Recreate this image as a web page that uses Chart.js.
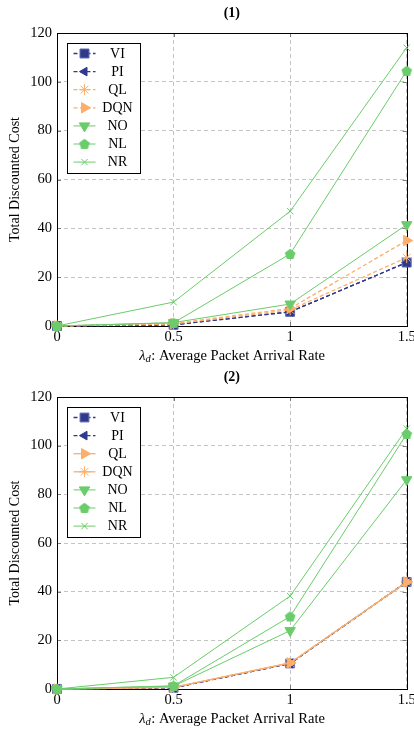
<!DOCTYPE html>
<html><head><meta charset="utf-8">
<script src="https://cdn.jsdelivr.net/npm/chart.js@4.4.0/dist/chart.umd.min.js"></script>
<style>
html,body{margin:0;padding:0;background:#fff;}
.wrap{position:relative;width:414px;}
canvas{display:block;}
</style></head><body>
<div class="wrap"><canvas id="c1" width="414" height="365"></canvas></div>
<div class="wrap"><canvas id="c2" width="414" height="366"></canvas></div>
<script>
// ---------- data ----------
const xValues = [0, 0.5, 1, 1.5];
const xTickLabels = ['0', '0.5', '1', '1.5'];
const seriesNames = ['VI', 'PI', 'QL', 'DQN', 'NO', 'NL', 'NR'];
// chart (1)
const vi1  = [0, 0.5, 5.8, 26];
const pi1  = [0, 0.5, 5.8, 26];
const ql1  = [0, 0.8, 6.6, 28];
const dqn1 = [0, 1.0, 7.2, 35];
const no1  = [0, 1.4, 9.0, 41.5];
const nl1  = [0, 1.3, 29.5, 104.5];
const nr1  = [0, 9.8, 47, 114];
// chart (2)
const vi2  = [0, 0.5, 10.5, 44];
const pi2  = [0, 0.5, 10.5, 44];
const ql2  = [0, 0.7, 10.7, 44];
const dqn2 = [0, 0.7, 10.7, 44];
const no2  = [0, 1.2, 24, 86];
const nl2  = [0, 1.3, 29.8, 104.8];
const nr2  = [0, 4.8, 38.2, 107];

const FONT = "'Liberation Serif', 'DejaVu Serif', serif";
const NAVY = '#2f3a8c', ORANGE = '#fdae6b', GREEN = '#6acc6a';

function pentagon(color) {
  const c = document.createElement('canvas');
  c.width = 12; c.height = 12;
  const g = c.getContext('2d');
  g.beginPath();
  for (let i = 0; i < 5; i++) {
    const a = -Math.PI / 2 + i * 2 * Math.PI / 5;
    const px = 6 + 5.6 * Math.cos(a), py = 6.4 + 5.6 * Math.sin(a);
    i ? g.lineTo(px, py) : g.moveTo(px, py);
  }
  g.closePath();
  g.fillStyle = color; g.fill();
  return c;
}
const PENT = pentagon(GREEN);

function mk(label, vals, color, style, opts) {
  return Object.assign({
    label, data: xValues.map((x, i) => ({x, y: vals[i]})),
    borderColor: color, backgroundColor: color,
    pointBackgroundColor: color, pointBorderColor: color,
    borderWidth: 1, pointBorderWidth: 1, pointStyle: style,
    pointRadius: 5, pointRotation: 0, tension: 0, clip: false, fill: false
  }, opts || {});
}
const DASH = [4, 2.5];

function datasets1() {
  return [
    mk(seriesNames[0], vi1, NAVY, 'rect', {borderDash: DASH, borderWidth: 1.3, pointRadius: 6.3, pointBorderColor: '#5a64a8'}),
    mk(seriesNames[1], pi1, NAVY, 'triangle', {borderDash: DASH, borderWidth: 1.3, pointRotation: -90, pointRadius: 5}),
    mk(seriesNames[2], ql1, ORANGE, 'star', {borderDash: DASH, borderWidth: 1.3, pointRadius: 5.5}),
    mk(seriesNames[3], dqn1, ORANGE, 'triangle', {borderDash: DASH, borderWidth: 1.3, pointRotation: 90, pointRadius: 6}),
    mk(seriesNames[4], no1, GREEN, 'triangle', {pointRotation: 180, pointRadius: 6}),
    mk(seriesNames[5], nl1, GREEN, PENT, {}),
    mk(seriesNames[6], nr1, GREEN, 'crossRot', {pointRadius: 4.5})
  ];
}
function datasets2() {
  return [
    mk(seriesNames[0], vi2, NAVY, 'rect', {borderDash: DASH, borderWidth: 1.3, pointRadius: 6.3, pointBorderColor: '#6d76b5'}),
    mk(seriesNames[1], pi2, NAVY, 'triangle', {borderDash: DASH, borderWidth: 1.3, pointRotation: -90, pointRadius: 5}),
    mk(seriesNames[2], ql2, ORANGE, 'triangle', {borderWidth: 1.3, pointRotation: 90, pointRadius: 6}),
    mk(seriesNames[3], dqn2, ORANGE, 'star', {borderWidth: 1.3, pointRadius: 5.5}),
    mk(seriesNames[4], no2, GREEN, 'triangle', {pointRotation: 180, pointRadius: 6}),
    mk(seriesNames[5], nl2, GREEN, PENT, {}),
    mk(seriesNames[6], nr2, GREEN, 'crossRot', {pointRadius: 4.5})
  ];
}

const framePlugin = {
  id: 'frame',
  beforeDatasetsDraw(chart) {
    const {ctx, chartArea: a, scales: {x, y}} = chart;
    ctx.save();
    ctx.strokeStyle = '#7a7a7a'; ctx.lineWidth = 1; ctx.setLineDash([]);
    ctx.beginPath();
    x.ticks.forEach(t => {
      const px = Math.round(x.getPixelForValue(t.value)) + 0.5;
      ctx.moveTo(px, a.bottom); ctx.lineTo(px, a.bottom - 4);
      ctx.moveTo(px, a.top); ctx.lineTo(px, a.top + 4);
    });
    y.ticks.forEach(t => {
      const py = Math.round(y.getPixelForValue(t.value)) + 0.5;
      ctx.moveTo(a.left, py); ctx.lineTo(a.left + 4, py);
      ctx.moveTo(a.right, py); ctx.lineTo(a.right - 4, py);
    });
    ctx.stroke();
    ctx.strokeStyle = '#000';
    ctx.strokeRect(Math.round(a.left) + 0.5, Math.round(a.top) + 0.5,
                   Math.round(a.right - a.left), Math.round(a.bottom - a.top));
    ctx.restore();
  },
  afterDraw(chart, args, opts) {
    const {ctx, chartArea: a} = chart;
    const cx = (a.left + a.right) / 2;
    ctx.save();
    // title
    ctx.fillStyle = '#000';
    ctx.font = 'bold 14px ' + FONT;
    ctx.textAlign = 'center'; ctx.textBaseline = 'middle';
    ctx.fillText(opts.title, cx, a.top - 20);
    // x-axis title with subscript
    const f1 = 'italic 14.5px ' + FONT, f2 = 'italic 10.5px ' + FONT, f3 = '14.5px ' + FONT;
    const rest = ': Average Packet Arrival Rate';
    ctx.font = f1; const w1 = ctx.measureText('λ').width;
    ctx.font = f2; const w2 = ctx.measureText('d').width;
    ctx.font = f3; const w3 = ctx.measureText(rest).width;
    let sx = cx - (w1 + w2 + w3) / 2;
    const ty = a.bottom + 30;
    ctx.textAlign = 'left'; ctx.textBaseline = 'middle';
    ctx.font = f1; ctx.fillText('λ', sx, ty); sx += w1;
    ctx.font = f2; ctx.fillText('d', sx, ty + 3); sx += w2 + 0.5;
    ctx.font = f3; ctx.fillText(rest, sx, ty);
    // legend
    const bx = Math.round(a.left + 10) + 0.5, by = Math.round(a.top + 10) + 0.5;
    const bw = 73, bh = 130;
    ctx.fillStyle = '#fff';
    ctx.fillRect(bx, by, bw, bh);
    ctx.strokeStyle = '#000'; ctx.lineWidth = 1; ctx.setLineDash([]);
    ctx.strokeRect(bx, by, bw, bh);
    chart.data.datasets.forEach((ds, i) => {
      const ry = by + 10 + i * 18.1;
      ctx.save();
      ctx.strokeStyle = ds.borderColor; ctx.lineWidth = ds.borderWidth;
      ctx.setLineDash(ds.borderDash || []);
      ctx.beginPath(); ctx.moveTo(bx + 6, ry); ctx.lineTo(bx + 28, ry); ctx.stroke();
      ctx.setLineDash([]);
      ctx.fillStyle = ds.pointBackgroundColor; ctx.strokeStyle = ds.pointBorderColor;
      ctx.lineWidth = ds.pointBorderWidth;
      Chart.helpers.drawPoint(ctx, {pointStyle: ds.pointStyle, rotation: ds.pointRotation,
        radius: ds.pointRadius, borderWidth: ds.pointBorderWidth}, bx + 17, ry);
      ctx.restore();
      ctx.fillStyle = '#000'; ctx.font = '14px ' + FONT;
      ctx.textAlign = 'center'; ctx.textBaseline = 'middle';
      ctx.fillText(ds.label, bx + 50, ry + 0.5);
    });
    ctx.restore();
  }
};

function makeChart(id, ds, title, gap) {
  const canvas = document.getElementById(id);
  return new Chart(canvas, {
    type: 'line',
    data: {datasets: ds},
    plugins: [framePlugin],
    options: {
      responsive: false, animation: false,
      layout: {padding: {top: gap.top, right: 7, left: 0, bottom: 0}},
      plugins: {legend: {display: false}, tooltip: {enabled: false}, title: {display: false},
                frame: {title}},
      scales: {
        x: {
          type: 'linear', min: 0, max: 1.5,
          ticks: {stepSize: 0.5, color: '#000', font: {family: FONT, size: 14.5}, padding: 2, maxRotation: 0,
                  callback: (v) => { const i = xValues.indexOf(v); return i >= 0 ? xTickLabels[i] : ''; }},
          grid: {color: '#c4c4c4', drawTicks: false, lineWidth: 1},
          border: {display: false, dash: [4, 3]},
          afterFit(s) { s.height = gap.bottom; s.paddingLeft = 0; s.paddingRight = 0; }
        },
        y: {
          min: 0, max: 120,
          ticks: {stepSize: 20, color: '#000', font: {family: FONT, size: 14.5}, padding: 5},
          grid: {color: '#c4c4c4', drawTicks: false, lineWidth: 1},
          border: {display: false, dash: [4, 3]},
          title: {display: true, text: 'Total Discounted Cost', color: '#000',
                  font: {family: FONT, size: 14}, padding: {top: 7, bottom: 0}},
          afterFit(s) { s.width = 57; s.paddingTop = 0; s.paddingBottom = 0; }
        }
      }
    }
  });
}

// later series sit on top
function ordered(ds) { ds.forEach((d, i) => d.order = ds.length - i); return ds; }

makeChart('c1', ordered(datasets1()), '(1)', {top: 33, bottom: 365 - 326});
makeChart('c2', ordered(datasets2()), '(2)', {top: 32, bottom: 366 - 324});
</script>
</body></html>
